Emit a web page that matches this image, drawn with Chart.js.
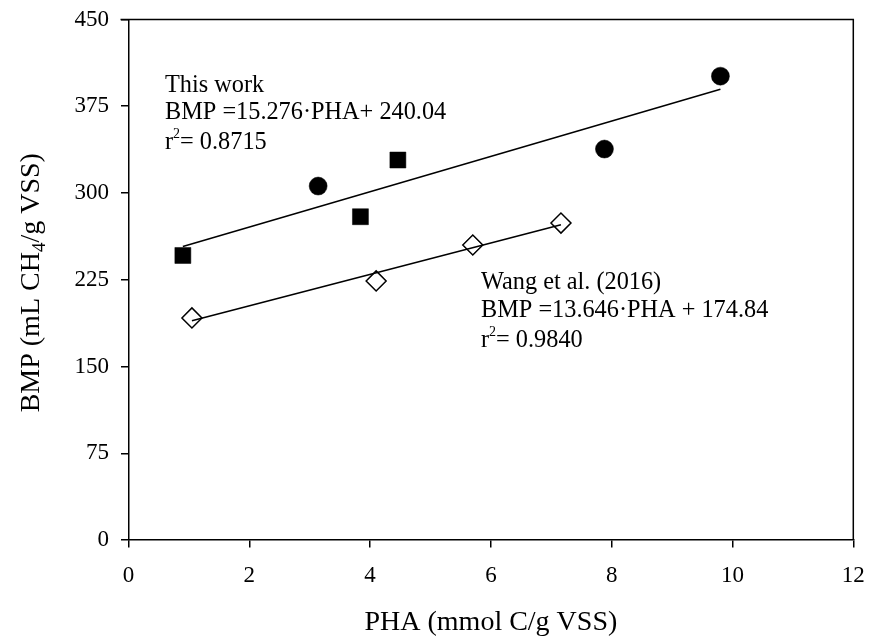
<!DOCTYPE html>
<html>
<head>
<meta charset="utf-8">
<script src="https://cdn.jsdelivr.net/npm/chart.js@4.4.1/dist/chart.umd.min.js"></script>
<style>
  html, body { margin: 0; padding: 0; background: #fff; }
  #wrap { width: 869px; height: 637px; }
</style>
</head>
<body>
<div id="wrap"><canvas id="bmpChart"></canvas></div>
<script>
// values
const thisWorkCircles = [[3.14, 306], [7.88, 338], [9.80, 401]];
const thisWorkSquares = [[0.90, 246], [3.84, 279.5], [4.46, 328.5]];
const wangPoints = [[1.05, 192], [4.10, 224], [5.70, 255], [7.16, 274]];
const thisWorkFit = [[0.90, 253.8], [9.80, 389.7]];
const wangFit = [[1.05, 189.5], [7.16, 272.5]];
const xTicks = [0, 2, 4, 6, 8, 10, 12];
const yTicks = [0, 75, 150, 225, 300, 375, 450];

const serif = '"Liberation Serif", "Times New Roman", serif';

function toXY(arr) {
    return arr.map(p => ({ x: p[0], y: p[1] }));
}

// frame, equations and y title with subscript
const extrasPlugin = {
    id: 'extras',
    afterDraw(chart) {
        const ctx = chart.ctx;
        const a = chart.chartArea;
        ctx.save();
        ctx.strokeStyle = '#000';
        ctx.lineWidth = 1.5;
        ctx.beginPath();
        ctx.moveTo(a.left - 8, a.top);
        ctx.lineTo(a.right, a.top);
        ctx.lineTo(a.right, a.bottom);
        ctx.stroke();

        ctx.fillStyle = '#000';
        ctx.textBaseline = 'alphabetic';
        ctx.textAlign = 'left';

        function rLine(x, y, val) {
            ctx.font = '24.3px ' + serif;
            ctx.fillText('r', x, y);
            let w = ctx.measureText('r').width;
            ctx.font = '14px ' + serif;
            ctx.fillText('2', x + w, y - 11);
            let w2 = ctx.measureText('2').width;
            ctx.font = '24.3px ' + serif;
            ctx.fillText('= ' + val, x + w + w2, y);
        }

        ctx.font = '24.3px ' + serif;
        ctx.fillText('This work', 165, 92);
        ctx.fillText('BMP =15.276\u00B7PHA+ 240.04', 165, 119);
        rLine(165, 149, '0.8715');

        ctx.font = '24.3px ' + serif;
        ctx.fillText('Wang et al. (2016)', 481, 289);
        ctx.fillText('BMP =13.646\u00B7PHA + 174.84', 481, 317);
        rLine(481, 347, '0.9840');

        // y axis title
        const parts = [['BMP (mL CH', 28, 0], ['4', 19, 6], ['/g VSS)', 28, 0]];
        let total = 0;
        parts.forEach(p => { ctx.font = p[1] + 'px ' + serif; total += ctx.measureText(p[0]).width; });
        ctx.translate(39, (a.top + a.bottom) / 2 + 3);
        ctx.rotate(-Math.PI / 2);
        let x = -total / 2;
        parts.forEach(p => {
            ctx.font = p[1] + 'px ' + serif;
            ctx.fillText(p[0], x, p[2]);
            x += ctx.measureText(p[0]).width;
        });
        ctx.restore();
    }
};

new Chart(document.getElementById('bmpChart'), {
    type: 'scatter',
    data: {
        datasets: [{
            label: 'This work fit',
            data: toXY(thisWorkFit),
            showLine: true,
            borderColor: '#000',
            borderWidth: 1.5,
            pointRadius: 0
        }, {
            label: 'Wang fit',
            data: toXY(wangFit),
            showLine: true,
            borderColor: '#000',
            borderWidth: 1.5,
            pointRadius: 0
        }, {
            label: 'This work (circles)',
            data: toXY(thisWorkCircles),
            pointStyle: 'circle',
            pointRadius: 9,
            backgroundColor: '#000',
            borderColor: '#000',
            borderWidth: 0.5
        }, {
            label: 'This work (squares)',
            data: toXY(thisWorkSquares),
            pointStyle: 'rect',
            pointRadius: 11.3,
            backgroundColor: '#000',
            borderColor: '#000',
            borderWidth: 0.5
        }, {
            label: 'Wang et al. (2016)',
            data: toXY(wangPoints),
            pointStyle: 'rectRot',
            pointRadius: 10,
            backgroundColor: '#fff',
            borderColor: '#000',
            borderWidth: 1.5
        }]
    },
    options: {
        responsive: true,
        maintainAspectRatio: false,
        animation: false,
        layout: { padding: { top: 19.5, right: 15.7, left: 0, bottom: 0 } },
        plugins: {
            legend: { display: false },
            tooltip: { enabled: false }
        },
        scales: {
            x: {
                type: 'linear',
                min: 0,
                max: 12,
                afterFit: function(scale) {
                    scale.height = 97;
                    scale.paddingLeft = 0;
                    scale.paddingRight = 0;
                },
                afterBuildTicks: function(scale) { scale.ticks = xTicks.map(v => ({ value: v })); },
                ticks: { color: '#000', font: { family: serif, size: 23 }, padding: 15 },
                grid: { display: true, drawOnChartArea: false, tickLength: 7.5, color: '#000', lineWidth: 1.5 },
                border: { display: true, color: '#000', width: 1.5 },
                title: {
                    display: true,
                    text: 'PHA (mmol C/g VSS)',
                    color: '#000',
                    font: { family: serif, size: 28 },
                    padding: { top: 0, bottom: -2 }
                }
            },
            y: {
                type: 'linear',
                min: 0,
                max: 450,
                afterFit: function(scale) {
                    scale.width = 128.5;
                    scale.paddingTop = 0;
                    scale.paddingBottom = 0;
                },
                afterBuildTicks: function(scale) { scale.ticks = yTicks.map(v => ({ value: v })); },
                ticks: { color: '#000', font: { family: serif, size: 23 }, padding: 12 },
                grid: { display: true, drawOnChartArea: false, tickLength: 7.5, color: '#000', lineWidth: 1.5 },
                border: { display: true, color: '#000', width: 1.5 }
            }
        }
    },
    plugins: [extrasPlugin]
});
</script>
</body>
</html>
